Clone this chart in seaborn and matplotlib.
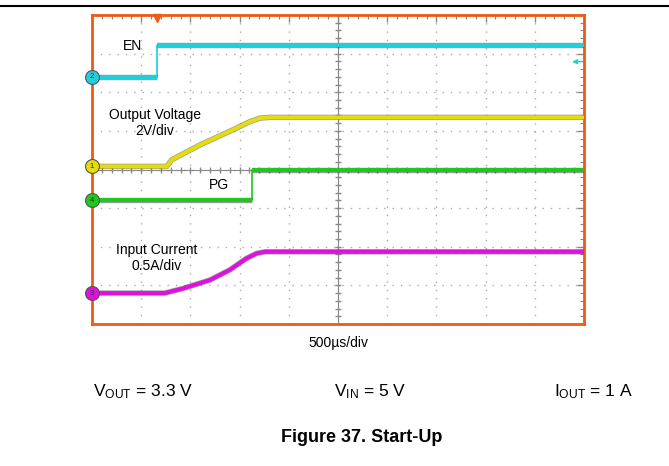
import matplotlib

matplotlib.use("Agg", force=True)
import matplotlib.pyplot as plt
import matplotlib.patheffects as pe
import numpy as np
import pandas as pd
import seaborn as sns
from matplotlib.lines import Line2D

# scope traces, x and y in screen divisions (10 x 8 grid, 500us/div)
EN_T = [0.0, 1.32, 1.32, 10.0]
EN_Y = [6.40, 6.40, 7.22, 7.22]

VOUT_T = [0.0, 1.52, 1.62, 2.20, 2.87, 3.21, 3.41, 3.62, 10.0]
VOUT_Y = [4.08, 4.08, 4.25, 4.64, 5.03, 5.24, 5.33, 5.35, 5.35]

PG_T = [0.0, 3.25, 3.25, 10.0]
PG_Y = [3.21, 3.21, 3.99, 3.99]

IIN_T = [0.0, 1.48, 1.85, 2.40, 2.80, 3.14, 3.35, 3.52, 10.0]
IIN_Y = [0.80, 0.80, 0.92, 1.14, 1.40, 1.70, 1.83, 1.87, 1.87]

CHANNELS = ["EN", "Output Voltage", "PG", "Input Current"]
CH_NUMBERS = ["2", "1", "4", "3"]
COLORS = ["#1fd0dc", "#e6dc0a", "#1ec81e", "#e010e0"]


def set_style() -> None:
    sns.set_theme(style="white")
    plt.rcParams["font.family"] = ["Liberation Sans", "DejaVu Sans"]
    plt.rcParams["text.color"] = "black"
    plt.rcParams["mathtext.fontset"] = "custom"
    plt.rcParams["mathtext.rm"] = "Liberation Sans"
    plt.rcParams["mathtext.default"] = "regular"


def build_frame() -> pd.DataFrame:
    parts = []
    for name, t, y in zip(CHANNELS, [EN_T, VOUT_T, PG_T, IIN_T], [EN_Y, VOUT_Y, PG_Y, IIN_Y]):
        part = pd.DataFrame({"t": t, "level": y, "channel": name})
        # split the trace at vertical edges: those are drawn thin on the scope
        part["piece"] = (part["t"].diff() == 0).cumsum()
        parts.append(part)
    df = pd.concat(parts, ignore_index=True)
    df["unit"] = df["channel"] + "_" + df["piece"].astype(str)
    return df


def draw_scope(ax) -> None:
    orange = "#f05a14"
    ax.set_xlim(0, 10)
    ax.set_ylim(0, 8)
    ax.set_xticks(np.arange(0, 11, 1))
    ax.set_yticks(np.arange(0, 9, 1))
    ax.set_xticks(np.arange(0, 10.01, 0.2), minor=True)
    ax.set_yticks(np.arange(0, 8.01, 0.2), minor=True)
    ax.tick_params(which="both", direction="in", top=True, right=True, labelbottom=False, labelleft=False,
                   color="#888888")
    ax.tick_params(which="major", length=5, width=1)
    ax.tick_params(which="minor", length=3, width=0.8)
    ax.grid(True, which="major", color="#aaaaaa", linestyle=(0, (1, 5)), linewidth=1)
    for side in ax.spines.values():
        side.set_color(orange)
        side.set_linewidth(2)

    # center cross with minor ticks
    ax.axvline(5, color="#888888", lw=0.8, zorder=1)
    ax.axhline(4, color="#888888", lw=0.8, zorder=1)
    xs = np.arange(0.2, 10, 0.2)
    ys = np.arange(0.2, 8, 0.2)
    ax.plot(xs, np.full_like(xs, 4), ls="none", marker="|", ms=4, color="#888888", zorder=1)
    ax.plot(np.full_like(ys, 5), ys, ls="none", marker="_", ms=4, color="#888888", zorder=1)

    df = build_frame()
    # thin full trace (shows the fast edges), then the thick noisy bands
    sns.lineplot(data=df, x="t", y="level", hue="channel", hue_order=CHANNELS, palette=COLORS,
                 estimator=None, sort=False, legend=False, lw=1.2, ax=ax, zorder=3)
    n1 = len(ax.lines)
    sns.lineplot(data=df, x="t", y="level", hue="channel", hue_order=CHANNELS, palette=COLORS,
                 units="unit", estimator=None, sort=False, legend=False, lw=2.9, ax=ax, zorder=4)
    for line in ax.lines[n1:]:
        line.set_path_effects([pe.Stroke(linewidth=3.9, foreground="#3a3a3a", alpha=0.5), pe.Normal()])
        line.set_solid_joinstyle("round")
        line.set_solid_capstyle("butt")
    ax.set_xlabel("")
    ax.set_ylabel("")

    # channel ground markers
    for y0, num, col in zip([EN_Y[0], VOUT_Y[0], PG_Y[0], IIN_Y[0]], CH_NUMBERS, COLORS):
        ax.plot(0, y0, marker="o", ms=10, mfc=col, mec="#555555", mew=0.8, clip_on=False, zorder=6)
        ax.text(0, y0, num, fontsize=5.5, ha="center", va="center", color="#333333", zorder=7, clip_on=False)

    # trigger position and level
    ax.plot(EN_T[1], 7.93, marker="v", ms=6, color=orange, clip_on=False, zorder=6)
    ax.annotate("", xy=(9.7, 6.79), xytext=(10.0, 6.79),
                arrowprops=dict(arrowstyle="-|>", color=COLORS[0], lw=1, mutation_scale=7))

    ax.text(0.62, 7.2, "EN", fontsize=10, ha="left", va="center")
    ax.text(1.28, 5.2, "Output Voltage\n2V/div", fontsize=10, ha="center", va="center", linespacing=1.2)
    ax.text(2.58, 3.6, "PG", fontsize=10, ha="center", va="center")
    ax.text(1.32, 1.7, "Input Current\n0.5A/div", fontsize=10, ha="center", va="center", linespacing=1.2)


def main() -> None:
    set_style()
    fig = plt.figure(figsize=(6.69, 4.66), dpi=100)
    ax = fig.add_axes([92 / 669, 1 - 324 / 466, 492 / 669, 309 / 466])
    draw_scope(ax)

    fig.add_artist(Line2D([0, 1], [1 - 6 / 466] * 2, color="black", lw=1.5))
    fig.text(338 / 669, 1 - 343 / 466, "500\u00b5s/div", fontsize=10, ha="center", va="center")
    fig.text(93 / 669, 1 - 392 / 466, r"V$_{OUT}$ = 3.3 V", fontsize=12.5, ha="left", va="center")
    fig.text(334 / 669, 1 - 392 / 466, r"V$_{IN}$ = 5 V", fontsize=12.5, ha="left", va="center")
    fig.text(554 / 669, 1 - 392 / 466, r"I$_{OUT}$ = 1 A", fontsize=12.5, ha="left", va="center")
    fig.text(362 / 669, 1 - 438 / 466, "Figure 37. Start-Up", fontsize=13, fontweight="bold",
             ha="center", va="center")
    fig.savefig("out.png", dpi=100)
    plt.close(fig)


if __name__ == "__main__":
    main()
